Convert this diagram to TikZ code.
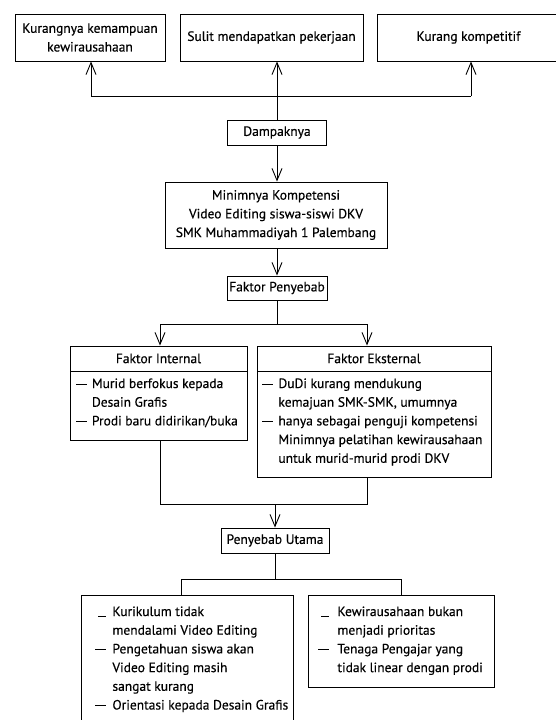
\documentclass[tikz,border=0pt]{standalone}
\usepackage{fontspec}
\setmainfont{PT Sans}[FakeBold=0.35]
\usetikzlibrary{arrows.meta}
\newcommand{\fsz}{\fontsize{13.5}{18.7}\selectfont}
\newcommand{\bul}[1]{\makebox[#1][l]{\rule[3.6pt]{10.5pt}{0.8pt}}}
\newcommand{\lbul}[1]{\makebox[#1][l]{\hspace*{3pt}\rule[-1pt]{8pt}{0.8pt}}}
\newcommand{\blist}[1]{\parbox[t]{320pt}{\raggedright #1}}
\begin{document}
\begin{tikzpicture}[x=1pt,y=-1pt,line width=0.9pt,
  box/.style={draw, rectangle, inner sep=0pt, align=center, font=\fsz},
  arr/.style={-{Straight Barb[length=12pt,width=10pt]}},
  txt/.style={inner sep=0pt, anchor=base west, font=\fsz}]
\clip (0,0) rectangle (556,720);
% top row
\node[box, minimum width=150pt, minimum height=47pt] (k1) at (90,37.5) {Kurangnya kemampuan\\kewirausahaan};
\node[box, minimum width=183pt, minimum height=47pt] (k2) at (271.5,37.5) {Sulit mendapatkan pekerjaan};
\node[box, minimum width=183pt, minimum height=47pt] (k3) at (468.5,37.5) {Kurang kompetitif};
\node[box, minimum width=99pt, minimum height=25pt] (dmp) at (277,132.5) {Dampaknya};
\coordinate (h1) at (91,96);
\coordinate (h3) at (471,96);
\draw (h1) -- (h3);
\draw[arr] (h1) -- (h1 |- k1.south);
\draw[arr] (h3) -- (h3 |- k3.south);
\draw[arr] (dmp.north) -- (dmp.north |- k2.south);
% main problem
\node[box, minimum width=222pt, minimum height=66pt] (min) at (276,215) {Minimnya Kompetensi\\Video Editing siswa-siswi DKV\\SMK Muhammadiyah 1 Palembang};
\draw[arr] (dmp.south) -- (dmp.south |- min.north);
\node[box, minimum width=100pt, minimum height=24pt] (fp) at (277,288) {Faktor Penyebab};
\draw[arr] (fp.north |- min.south) -- (fp.north);
\coordinate (j1) at (160,324);
\coordinate (j2) at (367,324);
\draw (fp.south) -- (fp.south |- j1);
\draw (j1) -- (j2);
% internal / external
\node[box, minimum width=177pt, minimum height=25pt] (ih) at (158.5,358.5) {Faktor Internal};
\node[box, minimum width=177pt, minimum height=69pt] (ib) at (158.5,405.5) {};
\node[box, minimum width=234pt, minimum height=25pt] (eh) at (374,358.5) {Faktor Eksternal};
\node[box, minimum width=234pt, minimum height=106pt] (eb) at (374,424) {};
\draw[arr] (j1) -- (j1 |- ih.north);
\draw[arr] (j2) -- (j2 |- eh.north);
\node[txt] (it) at (76,388) {\blist{\bul{15.5pt}Murid berfokus kepada\\\hspace*{15.5pt}Desain Grafis\\\bul{15.5pt}Prodi baru didirikan/buka}};
\node[txt] (et) at (262,388) {\blist{\bul{16pt}DuDi kurang mendukung\\\hspace*{16pt}kemajuan SMK-SMK, umumnya\\\bul{16pt}hanya sebagai penguji kompetensi\\\hspace*{16pt}Minimnya pelatihan kewirausahaan\\\hspace*{16pt}untuk murid-murid prodi DKV}};
\coordinate (m1) at (160,504);
\coordinate (m2) at (367,504);
\draw (m1 |- ib.south) -- (m1) -- (m2) -- (m2 |- eb.south);
% main cause
\node[box, minimum width=108pt, minimum height=25pt] (pu) at (275,540.5) {Penyebab Utama};
\draw[arr] (pu.north |- m1) -- (pu.north);
\coordinate (b1) at (181,579);
\coordinate (b2) at (401,579);
\node[box, minimum width=212pt, minimum height=134pt] (lb) at (187,662) {};
\node[box, minimum width=186pt, minimum height=92pt] (rb) at (401,641) {};
\draw (pu.south) -- (pu.south |- b1);
\draw (b1 |- lb.north) -- (b1) -- (b2) -- (b2 |- rb.north);
\node[txt] (lt) at (95,616) {\blist{\lbul{17pt}Kurikulum tidak\\\hspace*{17pt}mendalami Video Editing\\\bul{17pt}Pengetahuan siswa akan\\\hspace*{17pt}Video Editing masih\\\hspace*{17pt}sangat kurang\\\bul{17pt}Orientasi kepada Desain Grafis}};
\node[txt] (rt) at (318,616) {\blist{\lbul{19pt}Kewirausahaan bukan\\\hspace*{19pt}menjadi prioritas\\\bul{19pt}Tenaga Pengajar yang\\\hspace*{19pt}tidak linear dengan prodi}};
\end{tikzpicture}
\end{document}
